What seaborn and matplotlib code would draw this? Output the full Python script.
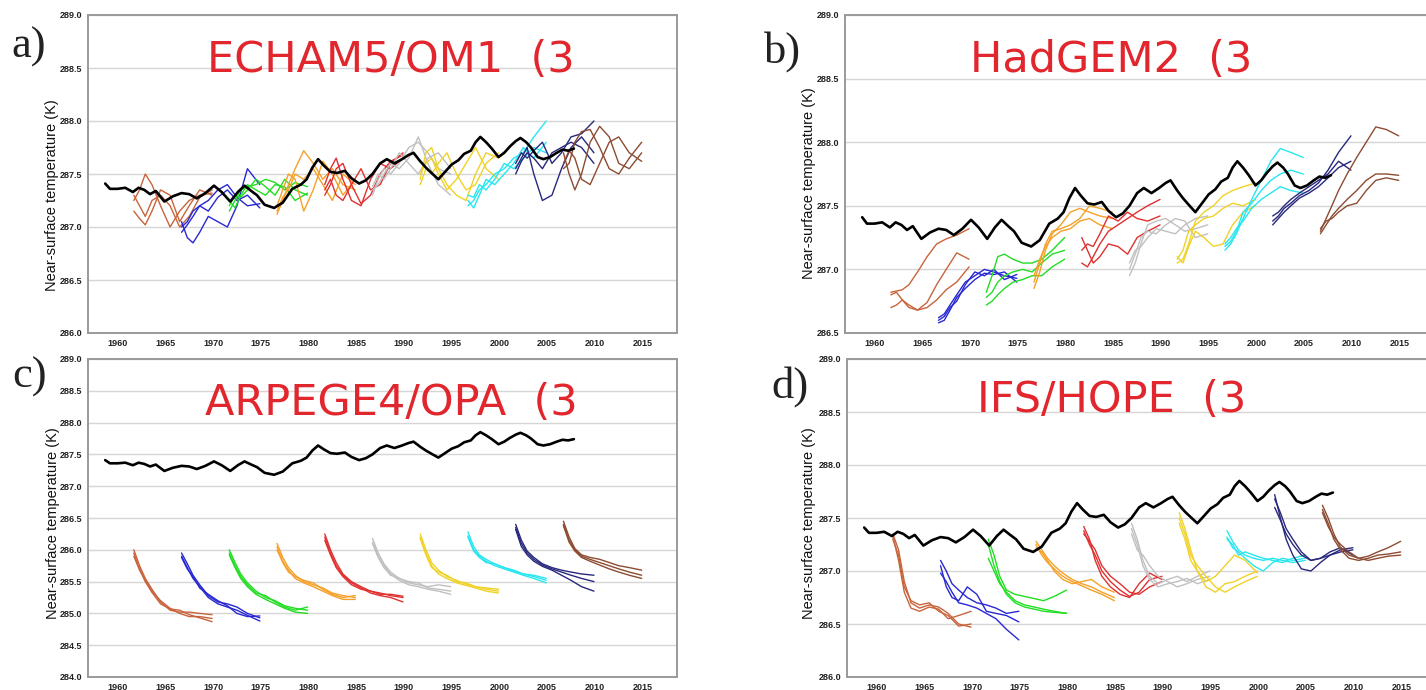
import matplotlib
matplotlib.use("Agg")
import matplotlib.pyplot as plt
import pandas as pd
import seaborn as sns
from matplotlib.ticker import MultipleLocator, FormatStrFormatter

# ---------------- data ----------------
obs_years = [1958.7, 1959.2, 1960.0, 1960.8, 1961.6, 1962.2, 1962.8, 1963.4, 1964.0, 1964.9,
             1965.8, 1966.7, 1967.5, 1968.3, 1969.2, 1970.1, 1970.9, 1971.8, 1972.6, 1973.3,
             1974.0, 1974.6, 1975.4, 1976.4, 1977.3, 1978.3, 1979.2, 1979.8, 1980.4, 1981.0,
             1981.6, 1982.3, 1983.0, 1983.8, 1984.5, 1985.3, 1986.0, 1986.7, 1987.5, 1988.2,
             1989.0, 1989.8, 1990.5, 1991.0, 1991.7, 1992.3, 1993.0, 1993.6, 1994.3, 1995.0,
             1995.7, 1996.3, 1997.0, 1997.5, 1998.0, 1998.6, 1999.2, 1999.9, 2000.5, 2001.1,
             2001.7, 2002.2, 2002.8, 2003.3, 2004.0, 2004.6, 2005.3, 2006.0, 2006.6, 2007.2,
             2007.8]
obs_temp = [287.41, 287.36, 287.36, 287.37, 287.33, 287.37, 287.35, 287.31, 287.34, 287.24,
            287.29, 287.32, 287.31, 287.27, 287.32, 287.39, 287.33, 287.24, 287.33, 287.39,
            287.34, 287.30, 287.21, 287.18, 287.23, 287.36, 287.40, 287.45, 287.56, 287.64,
            287.58, 287.52, 287.51, 287.53, 287.46, 287.41, 287.44, 287.50, 287.60, 287.64,
            287.60, 287.64, 287.68, 287.70, 287.62, 287.56, 287.50, 287.45, 287.52, 287.59,
            287.63, 287.69, 287.72, 287.80, 287.85, 287.80, 287.74, 287.66, 287.70, 287.76,
            287.81, 287.84, 287.80, 287.75, 287.66, 287.64, 287.66, 287.70, 287.73, 287.72,
            287.74]

start_years = [1960, 1965, 1970, 1975, 1980, 1985, 1990, 1995, 2000, 2005]
leads = [1.7, 2.3, 2.9, 3.6, 4.5, 5.5, 6.5, 7.5, 8.6, 9.9]
start_colors = ["#c8643c", "#2828d2", "#22dd22", "#f5a028", "#e03030",
                "#c0c0c0", "#f0d228", "#28e6f0", "#28287d", "#8c4b32"]

titles = ["ECHAM5/OM1  (3", "HadGEM2  (3", "ARPEGE4/OPA  (3", "IFS/HOPE  (3"]
panel_labels = ["a)", "b)", "c)", "d)"]
y_label = "Near-surface temperature (K)"

# --- a) ECHAM5/OM1 : 3 members per start date, values at each lead ---
echam_1960 = [[287.25, 287.35, 287.50, 287.40, 287.20, 287.00, 287.15, 287.25, 287.30, 287.32],
              [287.15, 287.08, 287.02, 287.15, 287.35, 287.30, 287.05, 287.20, 287.35, 287.30],
              [287.30, 287.20, 287.10, 287.25, 287.30, 287.20, 287.00, 287.10, 287.28, 287.35]]
echam_1965 = [[287.05, 286.90, 286.85, 286.95, 287.10, 287.05, 287.00, 287.20, 287.55, 287.40],
              [287.00, 287.05, 287.15, 287.20, 287.25, 287.35, 287.40, 287.28, 287.20, 287.22],
              [286.95, 287.02, 287.10, 287.20, 287.15, 287.28, 287.35, 287.25, 287.30, 287.18]]
echam_1970 = [[287.15, 287.25, 287.35, 287.38, 287.40, 287.45, 287.42, 287.35, 287.42, 287.38],
              [287.20, 287.30, 287.28, 287.35, 287.45, 287.38, 287.30, 287.45, 287.35, 287.30],
              [287.25, 287.18, 287.30, 287.40, 287.35, 287.30, 287.40, 287.38, 287.25, 287.32]]
echam_1975 = [[287.12, 287.25, 287.40, 287.55, 287.72, 287.60, 287.45, 287.55, 287.40, 287.35],
              [287.20, 287.35, 287.50, 287.45, 287.15, 287.35, 287.62, 287.50, 287.30, 287.45],
              [287.15, 287.28, 287.35, 287.50, 287.45, 287.55, 287.40, 287.25, 287.50, 287.40]]
echam_1980 = [[287.40, 287.55, 287.65, 287.45, 287.25, 287.20, 287.45, 287.60, 287.55, 287.65],
              [287.35, 287.45, 287.30, 287.25, 287.40, 287.55, 287.35, 287.40, 287.60, 287.70],
              [287.30, 287.40, 287.55, 287.60, 287.40, 287.22, 287.30, 287.50, 287.62, 287.68]]
echam_1985 = [[287.30, 287.45, 287.55, 287.50, 287.60, 287.75, 287.80, 287.70, 287.55, 287.50],
              [287.35, 287.40, 287.50, 287.60, 287.55, 287.65, 287.85, 287.60, 287.40, 287.30],
              [287.38, 287.50, 287.45, 287.55, 287.70, 287.60, 287.50, 287.65, 287.70, 287.55]]
echam_1990 = [[287.45, 287.70, 287.75, 287.55, 287.40, 287.30, 287.25, 287.50, 287.70, 287.65],
              [287.50, 287.60, 287.65, 287.50, 287.35, 287.45, 287.60, 287.75, 287.55, 287.45],
              [287.40, 287.55, 287.50, 287.60, 287.70, 287.50, 287.35, 287.40, 287.60, 287.70]]
echam_1995 = [[287.20, 287.25, 287.35, 287.40, 287.50, 287.55, 287.65, 287.70, 287.85, 288.00],
              [287.25, 287.18, 287.30, 287.45, 287.40, 287.50, 287.60, 287.75, 287.65, 287.80],
              [287.30, 287.28, 287.40, 287.35, 287.45, 287.60, 287.55, 287.65, 287.75, 287.70]]
echam_2000 = [[287.55, 287.65, 287.75, 287.50, 287.25, 287.30, 287.55, 287.75, 287.85, 287.70],
              [287.60, 287.70, 287.65, 287.72, 287.80, 287.60, 287.70, 287.85, 287.88, 288.00],
              [287.50, 287.62, 287.70, 287.65, 287.55, 287.70, 287.75, 287.80, 287.75, 287.60]]
echam_2005 = [[287.55, 287.60, 287.80, 287.90, 287.92, 287.75, 287.55, 287.50, 287.65, 287.80],
              [287.70, 287.50, 287.35, 287.50, 287.80, 287.95, 287.85, 287.60, 287.55, 287.70],
              [287.60, 287.72, 287.65, 287.45, 287.40, 287.60, 287.80, 287.85, 287.70, 287.62]]

# --- b) HadGEM2 ---
hadgem_1960 = [[286.82, 286.83, 286.84, 286.88, 286.98, 287.10, 287.20, 287.24, 287.27, 287.32],
               [286.80, 286.82, 286.76, 286.70, 286.68, 286.74, 286.88, 287.00, 287.13, 287.08],
               [286.70, 286.72, 286.76, 286.72, 286.68, 286.70, 286.76, 286.84, 286.90, 287.02]]
hadgem_1965 = [[286.62, 286.65, 286.72, 286.80, 286.90, 286.95, 287.00, 286.98, 286.95, 286.93],
               [286.58, 286.60, 286.68, 286.78, 286.85, 286.92, 286.97, 286.96, 286.98, 286.90],
               [286.60, 286.63, 286.70, 286.75, 286.88, 286.98, 286.95, 287.00, 286.92, 286.96]]
hadgem_1970 = [[286.82, 286.95, 287.10, 287.12, 287.08, 287.05, 287.05, 287.08, 287.15, 287.25],
               [286.78, 286.82, 286.90, 286.95, 286.98, 287.00, 286.98, 287.05, 287.12, 287.15],
               [286.72, 286.75, 286.80, 286.85, 286.90, 286.92, 286.95, 286.95, 287.02, 287.08]]
hadgem_1975 = [[286.85, 286.98, 287.15, 287.28, 287.35, 287.45, 287.48, 287.45, 287.42, 287.40],
               [286.90, 287.05, 287.20, 287.30, 287.32, 287.35, 287.40, 287.50, 287.48, 287.45],
               [286.95, 287.08, 287.18, 287.25, 287.30, 287.32, 287.38, 287.40, 287.35, 287.32]]
hadgem_1980 = [[287.05, 287.02, 287.10, 287.20, 287.30, 287.35, 287.40, 287.45, 287.50, 287.55],
               [287.15, 287.20, 287.18, 287.28, 287.42, 287.38, 287.45, 287.40, 287.38, 287.42],
               [287.25, 287.15, 287.05, 287.10, 287.20, 287.18, 287.12, 287.25, 287.30, 287.35]]
hadgem_1985 = [[286.95, 287.05, 287.20, 287.35, 287.38, 287.40, 287.35, 287.30, 287.32, 287.35],
               [287.00, 287.12, 287.25, 287.30, 287.28, 287.35, 287.40, 287.38, 287.25, 287.28],
               [287.05, 287.15, 287.18, 287.25, 287.32, 287.30, 287.28, 287.35, 287.40, 287.42]]
hadgem_1990 = [[287.05, 287.08, 287.20, 287.38, 287.45, 287.50, 287.58, 287.62, 287.65, 287.68],
               [287.08, 287.15, 287.30, 287.35, 287.40, 287.42, 287.48, 287.52, 287.50, 287.55],
               [287.10, 287.05, 287.18, 287.30, 287.25, 287.18, 287.20, 287.35, 287.45, 287.50]]
hadgem_1995 = [[287.15, 287.20, 287.28, 287.40, 287.55, 287.70, 287.85, 287.95, 287.92, 287.88],
               [287.18, 287.22, 287.30, 287.45, 287.52, 287.62, 287.70, 287.75, 287.78, 287.75],
               [287.20, 287.25, 287.32, 287.38, 287.48, 287.55, 287.60, 287.65, 287.62, 287.60]]
hadgem_2000 = [[287.38, 287.42, 287.48, 287.52, 287.58, 287.62, 287.68, 287.78, 287.92, 288.05],
               [287.42, 287.45, 287.50, 287.55, 287.60, 287.65, 287.70, 287.75, 287.85, 287.78],
               [287.35, 287.40, 287.45, 287.50, 287.56, 287.60, 287.65, 287.72, 287.80, 287.85]]
hadgem_2005 = [[287.30, 287.40, 287.50, 287.62, 287.75, 287.88, 288.00, 288.12, 288.10, 288.05],
               [287.28, 287.35, 287.42, 287.48, 287.55, 287.62, 287.70, 287.75, 287.75, 287.74],
               [287.32, 287.38, 287.40, 287.45, 287.50, 287.52, 287.62, 287.70, 287.72, 287.70]]

# --- c) ARPEGE4/OPA ---
arpege_1960 = [[286.00, 285.75, 285.55, 285.38, 285.18, 285.05, 285.02, 285.02, 285.00, 284.98],
               [285.95, 285.70, 285.50, 285.33, 285.15, 285.07, 285.05, 284.98, 284.93, 284.87],
               [285.90, 285.68, 285.52, 285.35, 285.20, 285.08, 285.00, 284.95, 284.95, 284.92]]
arpege_1965 = [[285.95, 285.78, 285.60, 285.45, 285.28, 285.18, 285.15, 285.10, 285.00, 284.93],
               [285.90, 285.72, 285.55, 285.42, 285.25, 285.15, 285.10, 285.05, 284.97, 284.88],
               [285.88, 285.70, 285.58, 285.40, 285.30, 285.20, 285.12, 285.00, 284.95, 284.96]]
arpege_1970 = [[286.00, 285.80, 285.62, 285.48, 285.35, 285.25, 285.20, 285.12, 285.08, 285.05],
               [285.95, 285.75, 285.58, 285.45, 285.32, 285.28, 285.18, 285.10, 285.05, 285.10],
               [285.92, 285.72, 285.55, 285.42, 285.30, 285.22, 285.15, 285.08, 285.02, 285.00]]
arpege_1975 = [[286.10, 285.88, 285.72, 285.60, 285.50, 285.45, 285.40, 285.32, 285.28, 285.25],
               [286.05, 285.82, 285.68, 285.55, 285.48, 285.42, 285.35, 285.28, 285.22, 285.22],
               [286.00, 285.80, 285.65, 285.58, 285.52, 285.48, 285.38, 285.30, 285.25, 285.28]]
arpege_1980 = [[286.25, 286.00, 285.80, 285.62, 285.50, 285.42, 285.35, 285.32, 285.28, 285.25],
               [286.20, 285.95, 285.75, 285.60, 285.48, 285.40, 285.32, 285.28, 285.25, 285.18],
               [286.15, 285.92, 285.72, 285.58, 285.45, 285.38, 285.35, 285.30, 285.30, 285.27]]
arpege_1985 = [[286.18, 285.95, 285.78, 285.65, 285.55, 285.48, 285.45, 285.42, 285.45, 285.42],
               [286.12, 285.90, 285.75, 285.62, 285.52, 285.45, 285.42, 285.38, 285.35, 285.30],
               [286.10, 285.88, 285.72, 285.60, 285.55, 285.50, 285.48, 285.40, 285.38, 285.35]]
arpege_1990 = [[286.25, 286.00, 285.80, 285.68, 285.58, 285.52, 285.46, 285.42, 285.38, 285.35],
               [286.20, 285.95, 285.75, 285.62, 285.55, 285.48, 285.44, 285.40, 285.35, 285.32],
               [286.18, 285.92, 285.72, 285.65, 285.60, 285.50, 285.48, 285.42, 285.40, 285.38]]
arpege_1995 = [[286.28, 286.05, 285.92, 285.85, 285.78, 285.72, 285.66, 285.62, 285.60, 285.55],
               [286.22, 286.00, 285.90, 285.82, 285.75, 285.70, 285.65, 285.60, 285.55, 285.48],
               [286.20, 285.98, 285.88, 285.80, 285.78, 285.72, 285.68, 285.62, 285.58, 285.52]]
arpege_2000 = [[286.40, 286.15, 285.98, 285.88, 285.78, 285.72, 285.68, 285.65, 285.62, 285.60],
               [286.35, 286.10, 285.95, 285.85, 285.76, 285.70, 285.65, 285.60, 285.55, 285.50],
               [286.32, 286.05, 285.92, 285.82, 285.74, 285.68, 285.60, 285.52, 285.42, 285.35]]
arpege_2005 = [[286.45, 286.20, 286.02, 285.92, 285.88, 285.85, 285.80, 285.75, 285.72, 285.68],
               [286.40, 286.15, 286.00, 285.90, 285.85, 285.80, 285.75, 285.70, 285.65, 285.60],
               [286.38, 286.12, 285.98, 285.88, 285.82, 285.76, 285.70, 285.65, 285.60, 285.55]]

# --- d) IFS/HOPE ---
ifs_1960 = [[287.35, 287.20, 286.90, 286.70, 286.65, 286.68, 286.66, 286.60, 286.50, 286.47],
            [287.33, 287.10, 286.80, 286.65, 286.62, 286.66, 286.64, 286.55, 286.58, 286.62],
            [287.30, 287.15, 286.85, 286.72, 286.68, 286.70, 286.62, 286.58, 286.48, 286.50]]
ifs_1965 = [[287.10, 287.00, 286.88, 286.82, 286.75, 286.70, 286.68, 286.65, 286.60, 286.62],
            [287.05, 286.85, 286.75, 286.72, 286.85, 286.78, 286.62, 286.60, 286.58, 286.52],
            [286.98, 286.90, 286.80, 286.70, 286.68, 286.65, 286.60, 286.55, 286.45, 286.35]]
ifs_1970 = [[287.30, 287.15, 286.95, 286.82, 286.78, 286.76, 286.74, 286.72, 286.76, 286.82],
            [287.12, 287.00, 286.88, 286.80, 286.72, 286.68, 286.66, 286.64, 286.62, 286.60],
            [287.25, 287.05, 286.90, 286.78, 286.70, 286.66, 286.64, 286.62, 286.61, 286.60]]
ifs_1975 = [[287.28, 287.20, 287.12, 287.05, 286.98, 286.92, 286.88, 286.85, 286.80, 286.75],
            [287.25, 287.15, 287.08, 287.02, 286.95, 286.90, 286.86, 286.82, 286.78, 286.72],
            [287.22, 287.18, 287.10, 287.00, 286.92, 286.88, 286.90, 286.92, 286.85, 286.80]]
ifs_1980 = [[287.42, 287.30, 287.10, 286.95, 286.85, 286.78, 286.75, 286.88, 286.98, 286.92],
            [287.38, 287.25, 287.15, 287.00, 286.90, 286.82, 286.76, 286.80, 286.92, 286.95],
            [287.35, 287.28, 287.20, 287.05, 286.95, 286.88, 286.80, 286.78, 286.85, 286.90]]
ifs_1985 = [[287.45, 287.30, 287.10, 286.95, 286.88, 286.92, 286.95, 286.90, 286.95, 287.00],
            [287.40, 287.25, 287.05, 286.92, 286.85, 286.88, 286.90, 286.93, 286.88, 286.92],
            [287.35, 287.20, 287.15, 287.05, 286.95, 286.90, 286.85, 286.88, 286.92, 286.95]]
ifs_1990 = [[287.55, 287.40, 287.20, 287.00, 286.85, 286.80, 286.88, 286.90, 286.95, 287.00],
            [287.50, 287.35, 287.15, 287.05, 286.95, 286.85, 286.80, 286.85, 286.90, 286.95],
            [287.45, 287.30, 287.10, 287.00, 286.90, 286.95, 287.05, 287.15, 287.10, 286.98]]
ifs_1995 = [[287.38, 287.28, 287.20, 287.15, 287.12, 287.10, 287.12, 287.10, 287.08, 287.10],
            [287.32, 287.22, 287.18, 287.12, 287.05, 287.00, 287.08, 287.12, 287.10, 287.12],
            [287.30, 287.25, 287.15, 287.18, 287.15, 287.12, 287.10, 287.08, 287.12, 287.15]]
ifs_2000 = [[287.72, 287.50, 287.30, 287.15, 287.02, 287.00, 287.08, 287.15, 287.18, 287.20],
            [287.68, 287.55, 287.40, 287.30, 287.18, 287.10, 287.12, 287.15, 287.20, 287.22],
            [287.60, 287.48, 287.35, 287.25, 287.15, 287.10, 287.12, 287.18, 287.22, 287.15]]
ifs_2005 = [[287.62, 287.50, 287.35, 287.22, 287.15, 287.12, 287.14, 287.18, 287.22, 287.28],
            [287.58, 287.45, 287.30, 287.20, 287.12, 287.10, 287.12, 287.15, 287.16, 287.18],
            [287.55, 287.42, 287.32, 287.25, 287.18, 287.12, 287.10, 287.12, 287.14, 287.15]]

echam = [echam_1960, echam_1965, echam_1970, echam_1975, echam_1980,
         echam_1985, echam_1990, echam_1995, echam_2000, echam_2005]
hadgem = [hadgem_1960, hadgem_1965, hadgem_1970, hadgem_1975, hadgem_1980,
          hadgem_1985, hadgem_1990, hadgem_1995, hadgem_2000, hadgem_2005]
arpege = [arpege_1960, arpege_1965, arpege_1970, arpege_1975, arpege_1980,
          arpege_1985, arpege_1990, arpege_1995, arpege_2000, arpege_2005]
ifs = [ifs_1960, ifs_1965, ifs_1970, ifs_1975, ifs_1980,
       ifs_1985, ifs_1990, ifs_1995, ifs_2000, ifs_2005]


def hindcast_frame(groups):
    rows = []
    for start, members in zip(start_years, groups):
        for m, vals in enumerate(members):
            for lead, v in zip(leads, vals):
                rows.append((start + lead, v, start, f"{start}-{m}"))
    return pd.DataFrame(rows, columns=["year", "temp", "start", "unit"])


obs_df = pd.DataFrame({"year": obs_years, "temp": obs_temp})

# ---------------- style ----------------
sns.set_theme(style="white")
plt.rcParams["font.family"] = ["DejaVu Sans"]

W, H = 1426, 690
fig = plt.figure(figsize=(W / 100, H / 100), dpi=100)


def rect(left, top, right, bottom):
    return [left / W, 1 - bottom / H, (right - left) / W, (bottom - top) / H]


panels = [
    dict(groups=echam, ylim=(286.0, 289.0), rect=rect(88, 15, 677, 333),
         title_xy=(0.202, 0.821), label_xy=(11 / W, 1 - 58 / H), ylab=(-0.050, 0.434)),
    dict(groups=hadgem, ylim=(286.5, 289.0), rect=rect(845, 15, 1434, 333),
         title_xy=(0.212, 0.821), label_xy=(764 / W, 1 - 63 / H), ylab=(-0.050, 0.472)),
    dict(groups=arpege, ylim=(284.0, 289.0), rect=rect(88, 359, 677, 677),
         title_xy=(0.199, 0.824), label_xy=(12 / W, 1 - 388 / H), ylab=(-0.048, 0.484)),
    dict(groups=ifs, ylim=(286.0, 289.0), rect=rect(847, 359, 1436, 677),
         title_xy=(0.221, 0.834), label_xy=(771 / W, 1 - 398 / H), ylab=(-0.052, 0.484)),
]

palette = dict(zip(start_years, start_colors))

for i, p in enumerate(panels):
    ax = fig.add_axes(p["rect"])
    df = hindcast_frame(p["groups"])
    sns.lineplot(data=df, x="year", y="temp", hue="start", units="unit",
                 estimator=None, palette=palette, legend=False, lw=1.0,
                 sort=False, ax=ax, zorder=2)
    sns.lineplot(data=obs_df, x="year", y="temp", color="black", lw=1.9,
                 estimator=None, sort=False, ax=ax, zorder=3)
    ax.set_xlim(1956.9, 2018.6)
    ax.set_ylim(*p["ylim"])
    ax.xaxis.set_major_locator(MultipleLocator(5))
    ax.xaxis.set_minor_locator(MultipleLocator(1))
    ax.yaxis.set_major_locator(MultipleLocator(0.5))
    ax.yaxis.set_minor_locator(MultipleLocator(0.25))
    ax.yaxis.set_major_formatter(FormatStrFormatter("%.1f"))
    ax.grid(axis="y", which="major", color="#d6d6d6", lw=1.0, zorder=0)
    ax.grid(axis="x", visible=False)
    ax.set_axisbelow(True)
    for s in ax.spines.values():
        s.set_color("#9a9a9a")
        s.set_linewidth(1.4)
    ax.tick_params(axis="both", which="major", direction="in", length=3,
                   color="#777777", labelsize=6.5, pad=4, labelcolor="#222222")
    ax.tick_params(axis="both", which="minor", direction="in", length=2,
                   color="#888888")
    for lab in ax.get_xticklabels() + ax.get_yticklabels():
        lab.set_fontweight("bold")
        lab.set_family("Liberation Sans")
    ax.set_xlabel("")
    ax.set_ylabel(y_label, fontsize=10.5, family="Liberation Sans", color="#111111")
    ax.yaxis.set_label_coords(*p["ylab"])
    ax.text(p["title_xy"][0], p["title_xy"][1], titles[i], transform=ax.transAxes,
            ha="left", va="baseline", fontsize=31, color="#e2262d",
            family="DejaVu Sans")
    fig.text(p["label_xy"][0], p["label_xy"][1], panel_labels[i], ha="left",
             va="baseline", fontsize=32, family="Liberation Serif", color="#222222")

fig.savefig("out.png", dpi=100)
